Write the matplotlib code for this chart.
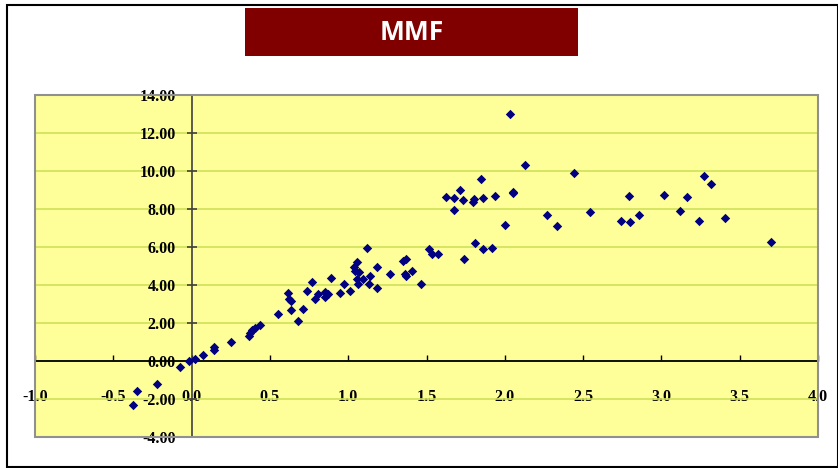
import matplotlib
matplotlib.use("Agg")
import matplotlib.pyplot as plt
from matplotlib.patches import Rectangle
from matplotlib.ticker import FormatStrFormatter, MultipleLocator

# valores (x, y)
x_vals = [-0.372, -0.347, -0.219, -0.076, -0.015, 0.022, 0.075, 0.14, 0.14, 0.254,
          0.365, 0.376, 0.387, 0.402, 0.437, 0.55, 0.614, 0.619, 0.635, 0.635,
          0.681, 0.713, 0.74, 0.767, 0.791, 0.804, 0.852, 0.852, 0.868, 0.89,
          0.95, 0.971, 1.01, 1.038, 1.045, 1.054, 1.059, 1.064, 1.069, 1.096,
          1.117, 1.136, 1.14, 1.182, 1.187, 1.267, 1.353, 1.36, 1.372, 1.366,
          1.405, 1.465, 1.517, 1.537, 1.572, 1.625, 1.676, 1.676, 1.715, 1.735,
          1.741, 1.794, 1.803, 1.808, 1.846, 1.861, 1.861, 1.92, 1.939, 2.0,
          2.031, 2.05, 2.054, 2.129, 2.268, 2.333, 2.445, 2.544, 2.742, 2.794,
          2.801, 2.854, 3.019, 3.119, 3.163, 3.238, 3.275, 3.315, 3.408, 3.697]
y_vals = [-2.32, -1.58, -1.21, -0.32, -0.02, 0.11, 0.34, 0.75, 0.56, 1.02,
          1.34, 1.49, 1.63, 1.75, 1.92, 2.46, 3.56, 3.26, 3.17, 2.71,
          2.11, 2.75, 3.71, 4.16, 3.25, 3.51, 3.65, 3.38, 3.51, 4.39,
          3.56, 4.04, 3.71, 4.95, 4.76, 5.19, 4.29, 4.04, 4.71, 4.34,
          5.97, 4.04, 4.46, 3.82, 4.95, 4.58, 5.24, 4.59, 5.37, 4.50,
          4.75, 4.04, 5.92, 5.62, 5.62, 8.63, 8.58, 7.97, 9.00, 8.45,
          5.37, 8.38, 8.51, 6.20, 9.59, 8.56, 5.91, 5.97, 8.68, 7.17,
          12.98, 8.83, 8.89, 10.32, 7.66, 7.11, 9.89, 7.84, 7.36, 8.68,
          7.29, 7.66, 8.75, 7.89, 8.63, 7.36, 9.72, 9.34, 7.54, 6.26]

titulo = "MMF"

fig = plt.figure(figsize=(8.38, 4.68), dpi=100)
W, H = 838.0, 468.0

# marco de la figura
fig.patches.append(Rectangle((7 / W, 1.5 / H), 830.5 / W, 461.5 / H, transform=fig.transFigure,
                             fill=False, edgecolor="black", lw=1.5))

# caja del titulo
fig.patches.append(Rectangle((245 / W, (H - 56) / H), 333 / W, 48 / H, transform=fig.transFigure,
                             facecolor="#800000", edgecolor="none"))
fig.text(411.5 / W, (H - 32) / H, titulo, color="white", fontsize=19, fontweight="bold",
         family="Open Sans", ha="center", va="center")

ax = fig.add_axes([35 / W, 31 / H, 783 / W, 342 / H])
ax.set_facecolor("#FFFF99")
ax.scatter(x_vals, y_vals, marker="D", s=23, color="#000080", zorder=3, linewidths=0)

ax.set_xlim(-1, 4)
ax.set_ylim(-4, 14)
ax.xaxis.set_major_locator(MultipleLocator(0.5))
ax.yaxis.set_major_locator(MultipleLocator(2))
ax.xaxis.set_major_formatter(FormatStrFormatter("%.1f"))
ax.yaxis.set_major_formatter(FormatStrFormatter("%.2f"))

ax.spines["left"].set_position(("data", 0))
ax.spines["bottom"].set_position(("data", 0))
ax.spines["top"].set_visible(False)
ax.spines["right"].set_visible(False)
ax.spines["left"].set_color("#404040")
ax.spines["left"].set_linewidth(1.2)
ax.spines["bottom"].set_color("black")
ax.spines["bottom"].set_linewidth(1.3)
ax.spines["left"].set_zorder(2.5)
ax.spines["bottom"].set_zorder(2.5)

ax.yaxis.grid(True, color="#CFE05A", lw=1.2)
ax.set_axisbelow(True)

ax.tick_params(axis="x", direction="in", length=4.5, width=1, color="black", pad=20)
ax.tick_params(axis="y", direction="inout", length=7, width=1.2, color="#404040", pad=8)
for lab in ax.get_xticklabels() + ax.get_yticklabels():
    lab.set_family("Liberation Serif")
    lab.set_fontweight("bold")
    lab.set_fontsize(11.5)

# borde del area de trazado
ax.add_patch(Rectangle((0, 0), 1, 1, transform=ax.transAxes, fill=False,
                       edgecolor="#909090", lw=1.5, clip_on=False, zorder=4))

fig.savefig("out.png", dpi=100)
